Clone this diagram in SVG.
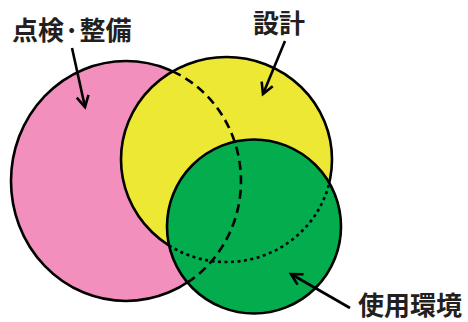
<svg xmlns="http://www.w3.org/2000/svg" width="468" height="322" viewBox="0 0 468 322">
<style>
.c{stroke:#000;stroke-width:2.6}
.t{font-family:"Noto Sans CJK JP","Noto Sans CJK SC",sans-serif;font-weight:bold;font-size:26px;fill:#231f20}
.a{fill:none;stroke:#000;stroke-width:2.6}
</style>
<defs>
<marker id="ah" markerUnits="userSpaceOnUse" markerWidth="16" markerHeight="16" refX="13" refY="7" orient="auto" overflow="visible">
<path d="M2,1 L13,7 L2,13" fill="none" stroke="#000" stroke-width="2.6"/>
</marker>
</defs>
<g id="inspection">
<ellipse class="c" cx="126" cy="181" rx="115" ry="120" fill="#f28fbc"/>
</g>
<g id="design">
<ellipse class="c" cx="226.5" cy="159.5" rx="105.5" ry="102.5" fill="#ece833"/>
</g>
<g id="environment">
<circle class="c" cx="254" cy="226.5" r="87" fill="#03ad4e"/>
</g>
<g id="hidden-edges">
<path class="a" stroke-dasharray="9 5.5" d="M172.7,71.4 A115,120 0 0 1 187.4,282.5"/>
<path class="a" stroke-dasharray="3 3.5" d="M169.1,245.5 A105.5,102.5 0 0 0 329.3,182.7"/>
</g>
<g id="connectors">
<path class="a" d="M72,48 L85,107" marker-end="url(#ah)"/>
<path class="a" d="M285,41 L263,94" marker-end="url(#ah)"/>
<path class="a" d="M350,308 L291,274" marker-end="url(#ah)"/>
</g>
<g id="labels">
<text class="t" x="12" y="40">点検·整備</text>
<text class="t" x="253" y="33">設計</text>
<text class="t" x="358" y="315">使用環境</text>
</g>
</svg>
